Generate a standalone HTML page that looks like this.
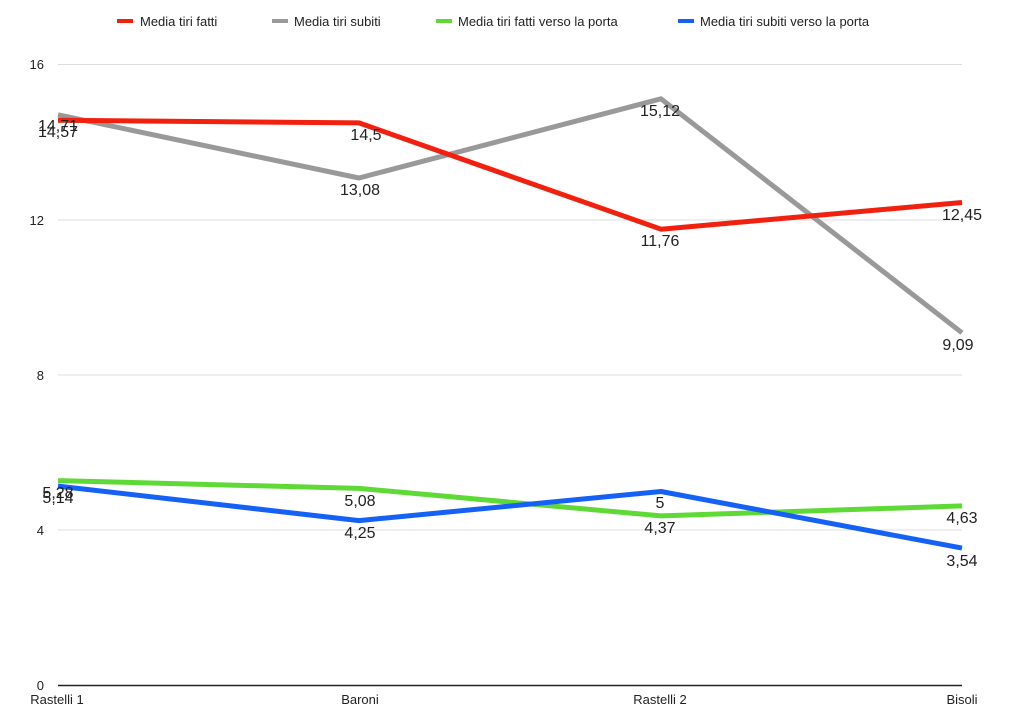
<!DOCTYPE html>
<html><head><meta charset="utf-8"><style>body{margin:0;background:#fff}svg{display:block}text{font-family:"Liberation Sans",sans-serif;fill:#222}</style></head><body>
<svg width="1024" height="723" xmlns="http://www.w3.org/2000/svg">
<g stroke="#ddd" stroke-width="1">
<line x1="58" y1="64.5" x2="962" y2="64.5"/><line x1="58" y1="220" x2="962" y2="220"/><line x1="58" y1="375" x2="962" y2="375"/><line x1="58" y1="530" x2="962" y2="530"/>
</g>
<line x1="58" y1="685.5" x2="962" y2="685.5" stroke="#222" stroke-width="1.5"/>
<g font-size="13" text-anchor="end"><text x="44" y="69">16</text><text x="44" y="225">12</text><text x="44" y="380">8</text><text x="44" y="535">4</text><text x="44" y="690">0</text></g>
<g font-size="13" text-anchor="middle"><text x="57" y="704">Rastelli 1</text><text x="360" y="704">Baroni</text><text x="660" y="704">Rastelli 2</text><text x="962" y="704">Bisoli</text></g>
<g fill="none" stroke-width="5" stroke-linejoin="round">
<polyline stroke="#999" points="58,114.8 359,178 661,98.8 962,332.8"/>
<polyline stroke="#f2200f" points="58,120.2 359,122.9 661,229.2 962,202.5"/>
<polyline stroke="#5fd936" points="58,480.6 359,488.4 661,515.9 962,505.9"/>
<polyline stroke="#1560f5" points="58,486.1 359,520.6 661,491.5 962,548.1"/>
</g>
<g font-size="16" text-anchor="middle">
<text x="58" y="131">14,71</text><text x="58" y="137">14,57</text>
<text x="366" y="140">14,5</text><text x="360" y="195">13,08</text><text x="660" y="116">15,12</text><text x="660" y="246">11,76</text><text x="962" y="220">12,45</text><text x="958" y="350">9,09</text>
<text x="58" y="498">5,28</text><text x="58" y="503">5,14</text>
<text x="360" y="506">5,08</text><text x="360" y="538">4,25</text><text x="660" y="508">5</text><text x="660" y="533">4,37</text><text x="962" y="523">4,63</text><text x="962" y="566">3,54</text>
</g>
<g font-size="13">
<rect x="117" y="19" width="16" height="4" fill="#f2200f"/><text x="140" y="26">Media tiri fatti</text>
<rect x="272" y="19" width="16" height="4" fill="#999"/><text x="294" y="26">Media tiri subiti</text>
<rect x="436" y="19" width="16" height="4" fill="#5fd936"/><text x="458" y="26">Media tiri fatti verso la porta</text>
<rect x="678" y="19" width="16" height="4" fill="#1560f5"/><text x="700" y="26">Media tiri subiti verso la porta</text>
</g>
</svg></body></html>
